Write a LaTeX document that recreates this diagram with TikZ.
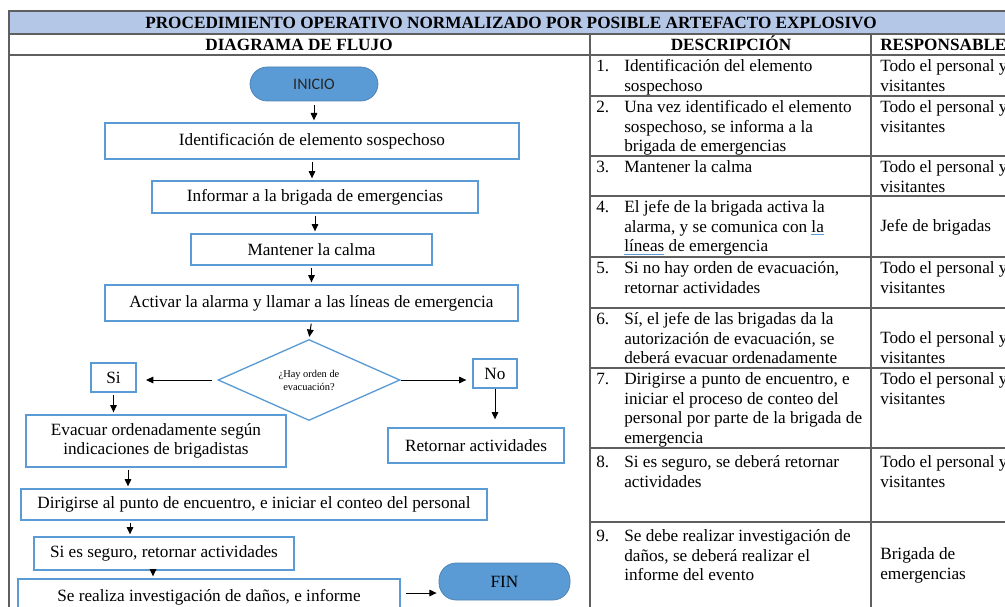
\documentclass[tikz,border=0pt]{standalone}
\usepackage{fontspec}
\setmainfont{Liberation Serif}
\newfontfamily\calibri{Carlito}
\usetikzlibrary{shapes.geometric, arrows.meta, calc}
\definecolor{titleblue}{RGB}{180,199,231}
\definecolor{flowblue}{RGB}{91,155,213}
\definecolor{gridgray}{RGB}{95,95,95}
\newcommand{\cellfont}{\fontsize{12.9}{14.6}\selectfont}
\newcommand{\flowfont}{\fontsize{12.9}{14.8}\selectfont}
\newcommand{\spellmark}[1]{{\color{flowblue}\underline{\color{black}#1}}}
\tikzset{
  fc box/.style={
    rectangle, draw=flowblue, line width=1pt, fill=white,
    align=center, font=\flowfont, inner sep=2pt
  },
  fc terminal/.style={
    rectangle, rounded corners=13pt, draw=flowblue!85!black,
    line width=0.6pt, fill=flowblue, align=center
  },
  fc decision/.style={
    diamond, draw=flowblue, line width=1pt, align=center,
    inner sep=0pt, font=\fontsize{7.8}{9.75}\selectfont
  },
  box size/.style 2 args={
    minimum width=#1*0.75pt, minimum height=#2*0.75pt
  },
  fc arrow/.style={
    -{Triangle[length=5.5pt, width=5pt]}, line width=0.75pt, draw=black,
    shorten <=1.5pt, shorten >=1.5pt
  },
  grid line/.style={
    draw=gridgray, line width=1.1pt
  },
  cell/.style={
    anchor=north west, inner sep=0pt, align=left, font=\cellfont
  },
  head/.style={
    font=\cellfont\bfseries, inner sep=0pt, text height=8.5pt, text depth=0pt
  }
}

\begin{document}
\begin{tikzpicture}[x=0.75pt, y=-0.75pt]
  \useasboundingbox (0,0) rectangle (1005,606);
  \clip (0,0) rectangle (1005,606);

  % table frame
  \fill[titleblue] (9,11) rectangle (1011,34);
  \draw[grid line] (1011,11) -- (9,11) -- (9,620);
  \draw[grid line] (9,34) -- (1011,34) (9,55) -- (1011,55);
  \draw[grid line] (590,34) -- (590,620) (871,34) -- (871,620);
  \draw[grid line] (590,96) -- (1011,96) (590,156) -- (1011,156)
    (590,196) -- (1011,196) (590,257) -- (1011,257)
    (590,308) -- (1011,308) (590,368) -- (1011,368)
    (590,448) -- (1011,448) (590,522) -- (1011,522);

  \node (title) [head] at (511,23) {PROCEDIMIENTO OPERATIVO NORMALIZADO POR POSIBLE ARTEFACTO EXPLOSIVO};
  \node (hflujo) [head] at (299,45) {DIAGRAMA DE FLUJO};
  \node (hdesc) [head] at (731,45) {DESCRIPCIÓN};
  \node (hresp) [head, anchor=west] at (880,45) {RESPONSABLE};

  % flow chart
  \node (inicio) [fc terminal, box size={128}{34}] at (314,84)
    {\calibri\fontsize{12}{14}\selectfont\color{black!85}INICIO};
  \node (idnt) [fc box, box size={414}{36}] at (312,141) {Identificación de elemento sospechoso};
  \node (info) [fc box, box size={326}{32}] at (315,197) {Informar a la brigada de emergencias};
  \node (calma) [fc box, box size={241}{31}] at (311.5,249.5) {Mantener la calma};
  \node (alarma) [fc box, box size={413}{36}] at (311.5,303) {Activar la alarma y llamar a las líneas de emergencia};
  \node (orden) [fc decision, box size={182}{78}] at (309,380) {¿Hay orden de\\evacuación?};
  \node (si) [fc box, box size={45}{29}] at (113.5,377.5) {Si};
  \node (no) [fc box, box size={44}{29}] at (495,373.5) {No};
  \node (retornar) [fc box, box size={176}{35}] at (476,445.5) {Retornar actividades};
  \node (evacuar) [fc box, box size={260}{52}] at (156,441) {Evacuar ordenadamente según\\indicaciones de brigadistas};
  \node (dirigir) [fc box, box size={466}{31}] at (254,504.5) {Dirigirse al punto de encuentro, e iniciar el conteo del personal};
  \node (seguro) [fc box, box size={260}{33}] at (164,553.5) {Si es seguro, retornar actividades};
  \node (investigar) [fc box, box size={382}{36}] at (209,597) {Se realiza investigación de daños, e informe};
  \node (fin) [fc terminal, box size={131}{37}] at (504.5,581.5) {\flowfont FIN};

  \draw[fc arrow, shorten <=3pt] (inicio.south) -- (inicio.south |- idnt.north);
  \draw[fc arrow] (idnt.south) -- (idnt.south |- info.north);
  \draw[fc arrow] (info.south) -- (info.south |- calma.north);
  \draw[fc arrow] (calma.south) -- (calma.south |- alarma.north);
  \draw[fc arrow] (alarma.south) -- (orden.north);
  \draw[fc arrow, shorten <=4pt, shorten >=7pt] (orden.west) -- (orden.west -| si.east);
  \draw[fc arrow, shorten <=0pt, shorten >=4.5pt] (orden.east) -- (orden.east -| no.west);
  \draw[fc arrow, shorten <=0pt, shorten >=6pt] (no.south) -- (no.south |- retornar.north);
  \draw[fc arrow] (si.south) -- (si.south |- evacuar.north);
  \draw[fc arrow] ($(evacuar.south)+(-28,0)$) coordinate (ev) -- (ev |- dirigir.north);
  \draw[fc arrow] ($(dirigir.south)+(-124,0)$) coordinate (dg) -- (dg |- seguro.north);
  \draw[fc arrow] ($(seguro.south)+(-11,0)$) coordinate (sg) -- (sg |- investigar.north);
  \draw[fc arrow, shorten <=4pt] ($(investigar.east)+(0,-4)$) coordinate (iv) -- (iv -| fin.west);

  % description and responsible columns
  \node (n1) [cell] at (596,58) {\strut 1.};
  \node (d1) [cell] at (624,58) {\strut Identificación del elemento\\sospechoso};
  \node (r1) [cell] at (880,58) {\strut Todo el personal y\\visitantes};

  \node (n2) [cell] at (596,99) {\strut 2.};
  \node (d2) [cell] at (624,99) {\strut Una vez identificado el elemento\\sospechoso, se informa a la\\brigada de emergencias};
  \node (r2) [cell] at (880,99) {\strut Todo el personal y\\visitantes};

  \node (n3) [cell] at (596,159) {\strut 3.};
  \node (d3) [cell] at (624,159) {\strut Mantener la calma};
  \node (r3) [cell] at (880,159) {\strut Todo el personal y\\visitantes};

  \node (n4) [cell] at (596,199) {\strut 4.};
  \node (d4) [cell] at (624,199) {\strut El jefe de la brigada activa la\\alarma, y se comunica con \spellmark{la}\\\spellmark{líneas} de emergencia};
  \node (r4) [cell] at (880,218) {\strut Jefe de brigadas};

  \node (n5) [cell] at (596,260) {\strut 5.};
  \node (d5) [cell] at (624,260) {\strut Si no hay orden de evacuación,\\retornar actividades};
  \node (r5) [cell] at (880,260) {\strut Todo el personal y\\visitantes};

  \node (n6) [cell] at (596,311) {\strut 6.};
  \node (d6) [cell] at (624,311) {\strut Sí, el jefe de las brigadas da la\\autorización de evacuación, se\\deberá evacuar ordenadamente};
  \node (r6) [cell] at (880,330) {\strut Todo el personal y\\visitantes};

  \node (n7) [cell] at (596,371) {\strut 7.};
  \node (d7) [cell] at (624,371) {\strut Dirigirse a punto de encuentro, e\\iniciar el proceso de conteo del\\personal por parte de la brigada de\\emergencia};
  \node (r7) [cell] at (880,371) {\strut Todo el personal y\\visitantes};

  \node (n8) [cell] at (596,454) {\strut 8.};
  \node (d8) [cell] at (624,454) {\strut Si es seguro, se deberá retornar\\actividades};
  \node (r8) [cell] at (880,454) {\strut Todo el personal y\\visitantes};

  \node (n9) [cell] at (596,528) {\strut 9.};
  \node (d9) [cell] at (624,528) {\strut Se debe realizar investigación de\\daños, se deberá realizar el\\informe del evento};
  \node (r9) [cell] at (880,546) {\strut Brigada de\\emergencias};
\end{tikzpicture}
\end{document}
